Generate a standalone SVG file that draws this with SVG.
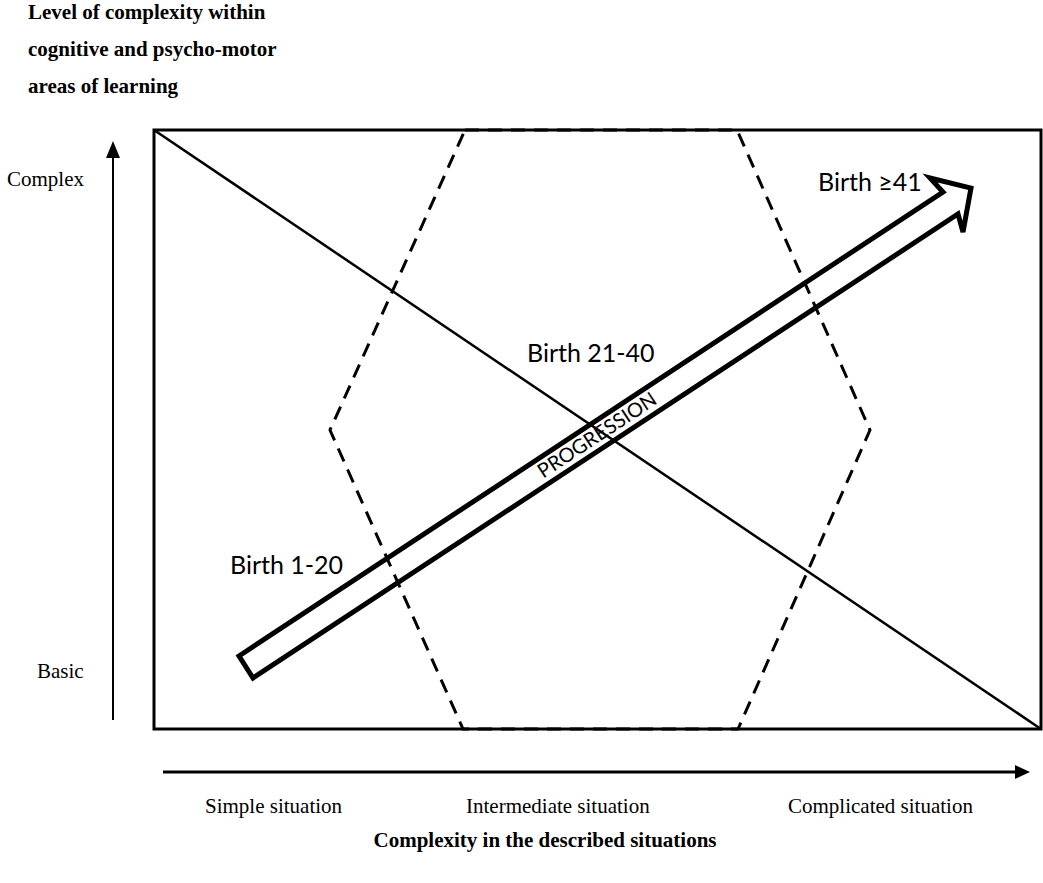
<svg xmlns="http://www.w3.org/2000/svg" width="1043" height="883" viewBox="0 0 1043 883">
<style>
.serif{font-family:"Liberation Serif","Times New Roman",serif;fill:#000}
.reg{font-size:21px}
.bold{font-size:21px;font-weight:bold}
.sans{font-family:Lato,"Open Sans",sans-serif;fill:#000}
.solid{fill:none;stroke:#000}
.dash{fill:none;stroke:#000;stroke-width:3;stroke-dasharray:14 9}
</style>
<rect width="1043" height="883" fill="#fff"/>
<g id="title">
<text class="serif bold" x="28" y="19">Level of complexity within</text>
<text class="serif bold" x="28" y="56">cognitive and psycho-motor</text>
<text class="serif bold" x="28" y="93">areas of learning</text>
</g>
<g id="frame">
<rect class="solid" x="154" y="130" width="887" height="599" stroke-width="3"/>
</g>
<g id="diagonal">
<line class="solid" x1="154" y1="130" x2="1041" y2="729" stroke-width="2.5"/>
</g>
<g id="hexagon">
<path class="dash" d="M465,130 L737,130 L870,430 L738,729 L463,729 L330,430 Z"/>
</g>
<g id="progression">
<polygon class="solid" stroke-width="5" stroke-linejoin="miter" points="239,656 943,192 930,178 971,188 963,232 958,214 253,678"/>
<text class="sans" font-size="20" text-anchor="middle" transform="translate(597,435) rotate(-33.39)" y="7">PROGRESSION</text>
</g>
<g id="labels">
<text class="sans" font-size="25" x="818" y="191">Birth ≥41</text>
<text class="sans" font-size="25" x="527" y="362">Birth 21-40</text>
<text class="sans" font-size="25" x="230" y="574">Birth 1-20</text>
<text class="serif reg" x="7" y="186">Complex</text>
<text class="serif reg" x="37" y="678">Basic</text>
<text class="serif reg" x="205" y="813">Simple situation</text>
<text class="serif reg" x="466" y="813">Intermediate situation</text>
<text class="serif reg" x="788" y="813">Complicated situation</text>
<text class="serif bold" x="545" y="847" text-anchor="middle">Complexity in the described situations</text>
</g>
<g id="connectors">
<line class="solid" x1="113" y1="720" x2="113" y2="155" stroke-width="2"/>
<polygon points="113,141 106,158 120,158" fill="#000"/>
<line class="solid" x1="163" y1="772" x2="1016" y2="772" stroke-width="3"/>
<polygon points="1030,772 1015,765 1015,779" fill="#000"/>
</g>
</svg>
